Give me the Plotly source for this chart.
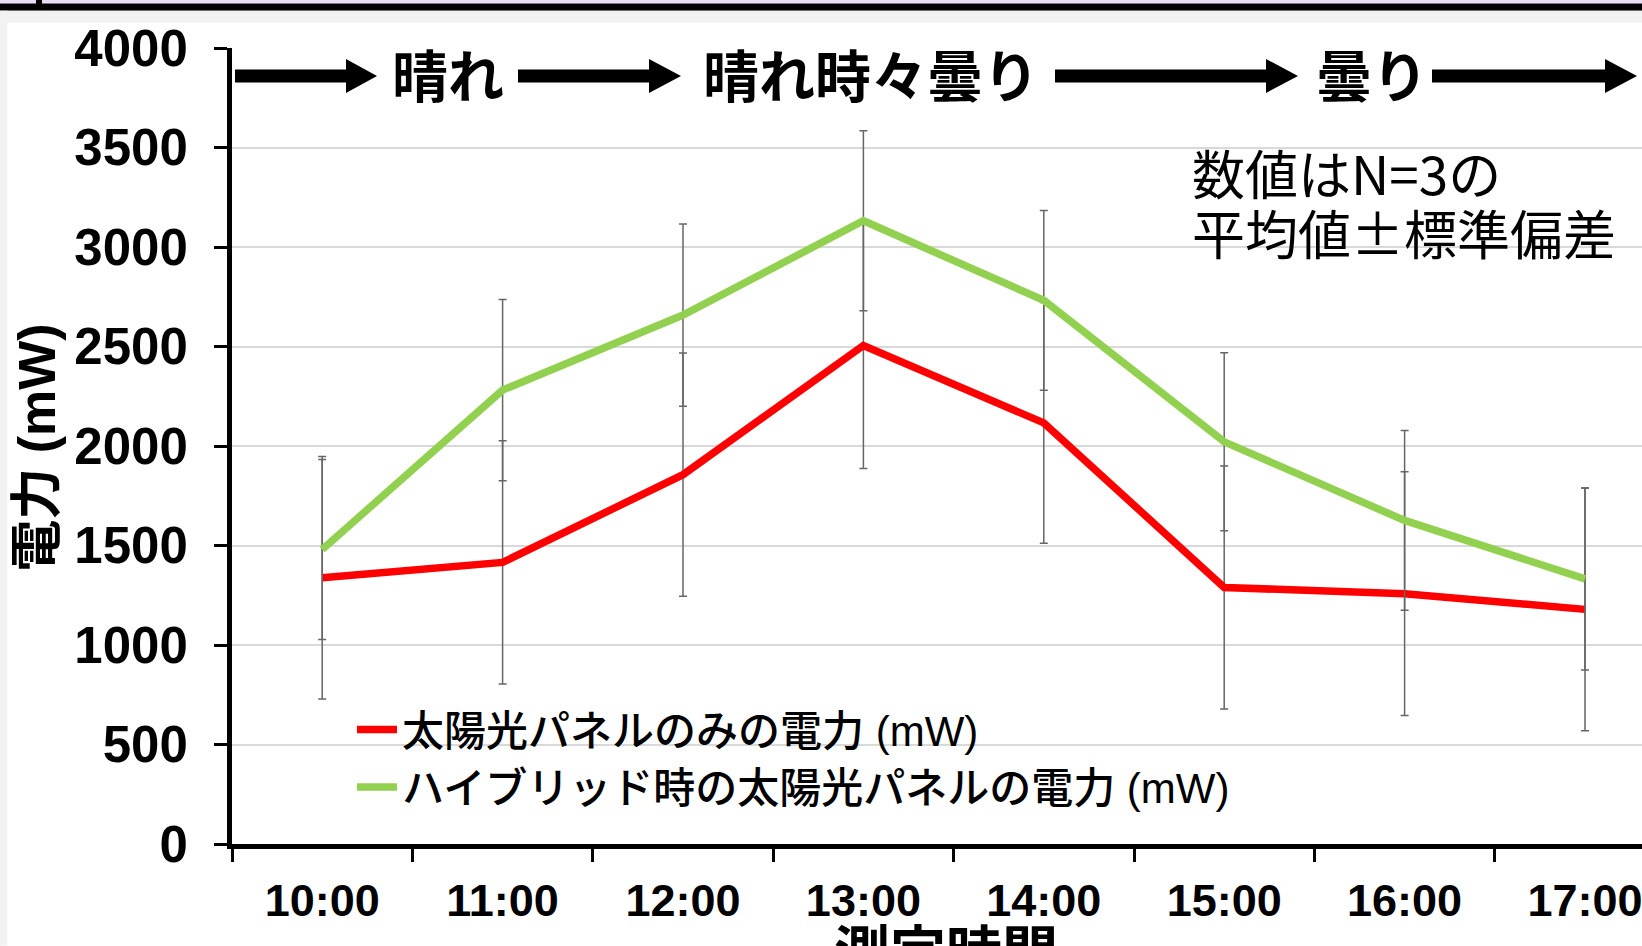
import plotly.graph_objects as go

# ---- data ----
times = ["10:00", "11:00", "12:00", "13:00", "14:00", "15:00", "16:00", "17:00"]
solar_only = [1338, 1415, 1856, 2505, 2116, 1289, 1258, 1179]
solar_only_sd = [609, 611, 611, 618, 605, 610, 612, 610]
hybrid = [1480, 2281, 2658, 3132, 2732, 2021, 1626, 1332]
hybrid_sd = [452, 455, 458, 452, 452, 447, 452, 457]
y_ticks = [0, 500, 1000, 1500, 2000, 2500, 3000, 3500, 4000]

name_solar = "太陽光パネルのみの電力 (mW)"
name_hybrid = "ハイブリッド時の太陽光パネルの電力 (mW)"
weather = [("晴れ", 448), ("晴れ時々曇り", 871), ("曇り", 1372)]
note_lines = ["数値はN=3の", "平均値±標準偏差"]

W, H = 1642, 946
L, R, T, B = 232, 0, 48, 101.5
PW, PH = W - L - R, H - T - B

FONT = "Liberation Sans, Noto Sans CJK JP, sans-serif"
CJK = "Noto Sans CJK JP"


def px(x):
    return (x - L) / PW


def py(y):
    return (H - B - y) / PH


fig = go.Figure()
fig.add_trace(go.Scatter(
    x=times, y=solar_only, name=name_solar, mode="lines",
    line=dict(color="#FF0000", width=7.5),
    error_y=dict(type="data", array=solar_only_sd, color="#666666", thickness=1.5, width=4),
))
fig.add_trace(go.Scatter(
    x=times, y=hybrid, name=name_hybrid, mode="lines",
    line=dict(color="#92D050", width=7.5),
    error_y=dict(type="data", array=hybrid_sd, color="#666666", thickness=1.5, width=4),
))

shapes = []
# screenshot frame decorations
shapes.append(dict(type="rect", xref="paper", yref="paper", x0=px(0), x1=px(W), y0=py(0), y1=py(3.5),
                   fillcolor="#E9DEF7", line_width=0, layer="above"))
shapes.append(dict(type="rect", xref="paper", yref="paper", x0=px(0), x1=px(W), y0=py(3.5), y1=py(10.7),
                   fillcolor="#000000", line_width=0, layer="above"))
shapes.append(dict(type="rect", xref="paper", yref="paper", x0=px(0), x1=px(W), y0=py(10.7), y1=py(22.5),
                   fillcolor="#F2F2F2", line_width=0, layer="above"))
shapes.append(dict(type="rect", xref="paper", yref="paper", x0=px(0), x1=px(7.3), y0=py(10.7), y1=py(H),
                   fillcolor="#F2F2F2", line_width=0, layer="above"))
shapes.append(dict(type="rect", xref="paper", yref="paper", x0=px(36), x1=px(42), y0=py(0), y1=py(4),
                   fillcolor="#000000", line_width=0, layer="above"))

# arrows
arrows = [(235, 346, 377), (518, 649, 681), (1055, 1266, 1298), (1432, 1605, 1637)]
yc, sh, hh = 76, 6.5, 17
for x0, xh, xt in arrows:
    path = (f"M{px(x0)},{py(yc - sh)} L{px(xh)},{py(yc - sh)} L{px(xh)},{py(yc - hh)} "
            f"L{px(xt)},{py(yc)} L{px(xh)},{py(yc + hh)} L{px(xh)},{py(yc + sh)} L{px(x0)},{py(yc + sh)} Z")
    shapes.append(dict(type="path", xref="paper", yref="paper", path=path,
                       fillcolor="#000000", line_width=0))

annotations = []
for txt, xc in weather:
    annotations.append(dict(text=f"<b>{txt}</b>", xref="paper", yref="paper", x=px(xc), y=py(73),
                            xanchor="center", yanchor="middle", showarrow=False,
                            font=dict(family=CJK, size=56, color="#000000")))
for txt, yl in zip(note_lines, [172, 232]):
    annotations.append(dict(text=txt, xref="paper", yref="paper", x=px(1190), y=py(yl),
                            xanchor="left", yanchor="middle", align="left", showarrow=False,
                            font=dict(family=CJK, size=53, color="#000000")))
annotations.append(dict(text="<b>測定時間</b>", xref="paper", yref="paper", x=px(946), y=py(906),
                        xanchor="center", yanchor="top", showarrow=False,
                        font=dict(family=CJK, size=56, color="#000000")))
annotations.append(dict(text="<b>電力 (mW)</b>", xref="paper", yref="paper", x=px(37), y=py(448),
                        xanchor="center", yanchor="middle", textangle=-90, showarrow=False,
                        font=dict(family=FONT, size=52, color="#000000")))

fig.update_layout(
    width=W, height=H,
    margin=dict(l=L, r=R, t=T, b=B, pad=0),
    paper_bgcolor="#FFFFFF", plot_bgcolor="#FFFFFF",
    font=dict(family=FONT, color="#000000"),
    showlegend=True,
    legend=dict(x=px(352), y=py(696), xanchor="left", yanchor="top",
                bgcolor="rgba(0,0,0,0)", font=dict(family=FONT, size=42, color="#000000", weight=500),
                tracegroupgap=0, itemwidth=40),
    shapes=shapes,
    annotations=annotations,
)
fig.update_xaxes(
    type="category", range=[-0.5, -0.5 + PW / 180.4],
    tickson="boundaries", ticks="outside", ticklen=13, tickwidth=3, tickcolor="#000000",
    showline=True, linewidth=5, linecolor="#000000", showgrid=False, zeroline=False,
    tickfont=dict(family=FONT, size=45, color="#000000"), ticklabelstandoff=13,
    tickvals=times, ticktext=[f"<b>{t}</b>" for t in times],
)
fig.update_yaxes(
    range=[0, 4000], tickvals=y_ticks, ticktext=[f"<b>{v}</b>" for v in y_ticks],
    ticks="outside", ticklen=13, tickwidth=3, tickcolor="#000000",
    showline=True, linewidth=5, linecolor="#000000",
    showgrid=True, gridcolor="#D9D9D9", gridwidth=2, zeroline=False,
    tickfont=dict(family=FONT, size=51, color="#000000"), ticklabelstandoff=16,
)

fig.write_html("out.html", config={"displayModeBar": False},
               post_script="document.body.style.margin='0';document.body.style.overflow='hidden';")
